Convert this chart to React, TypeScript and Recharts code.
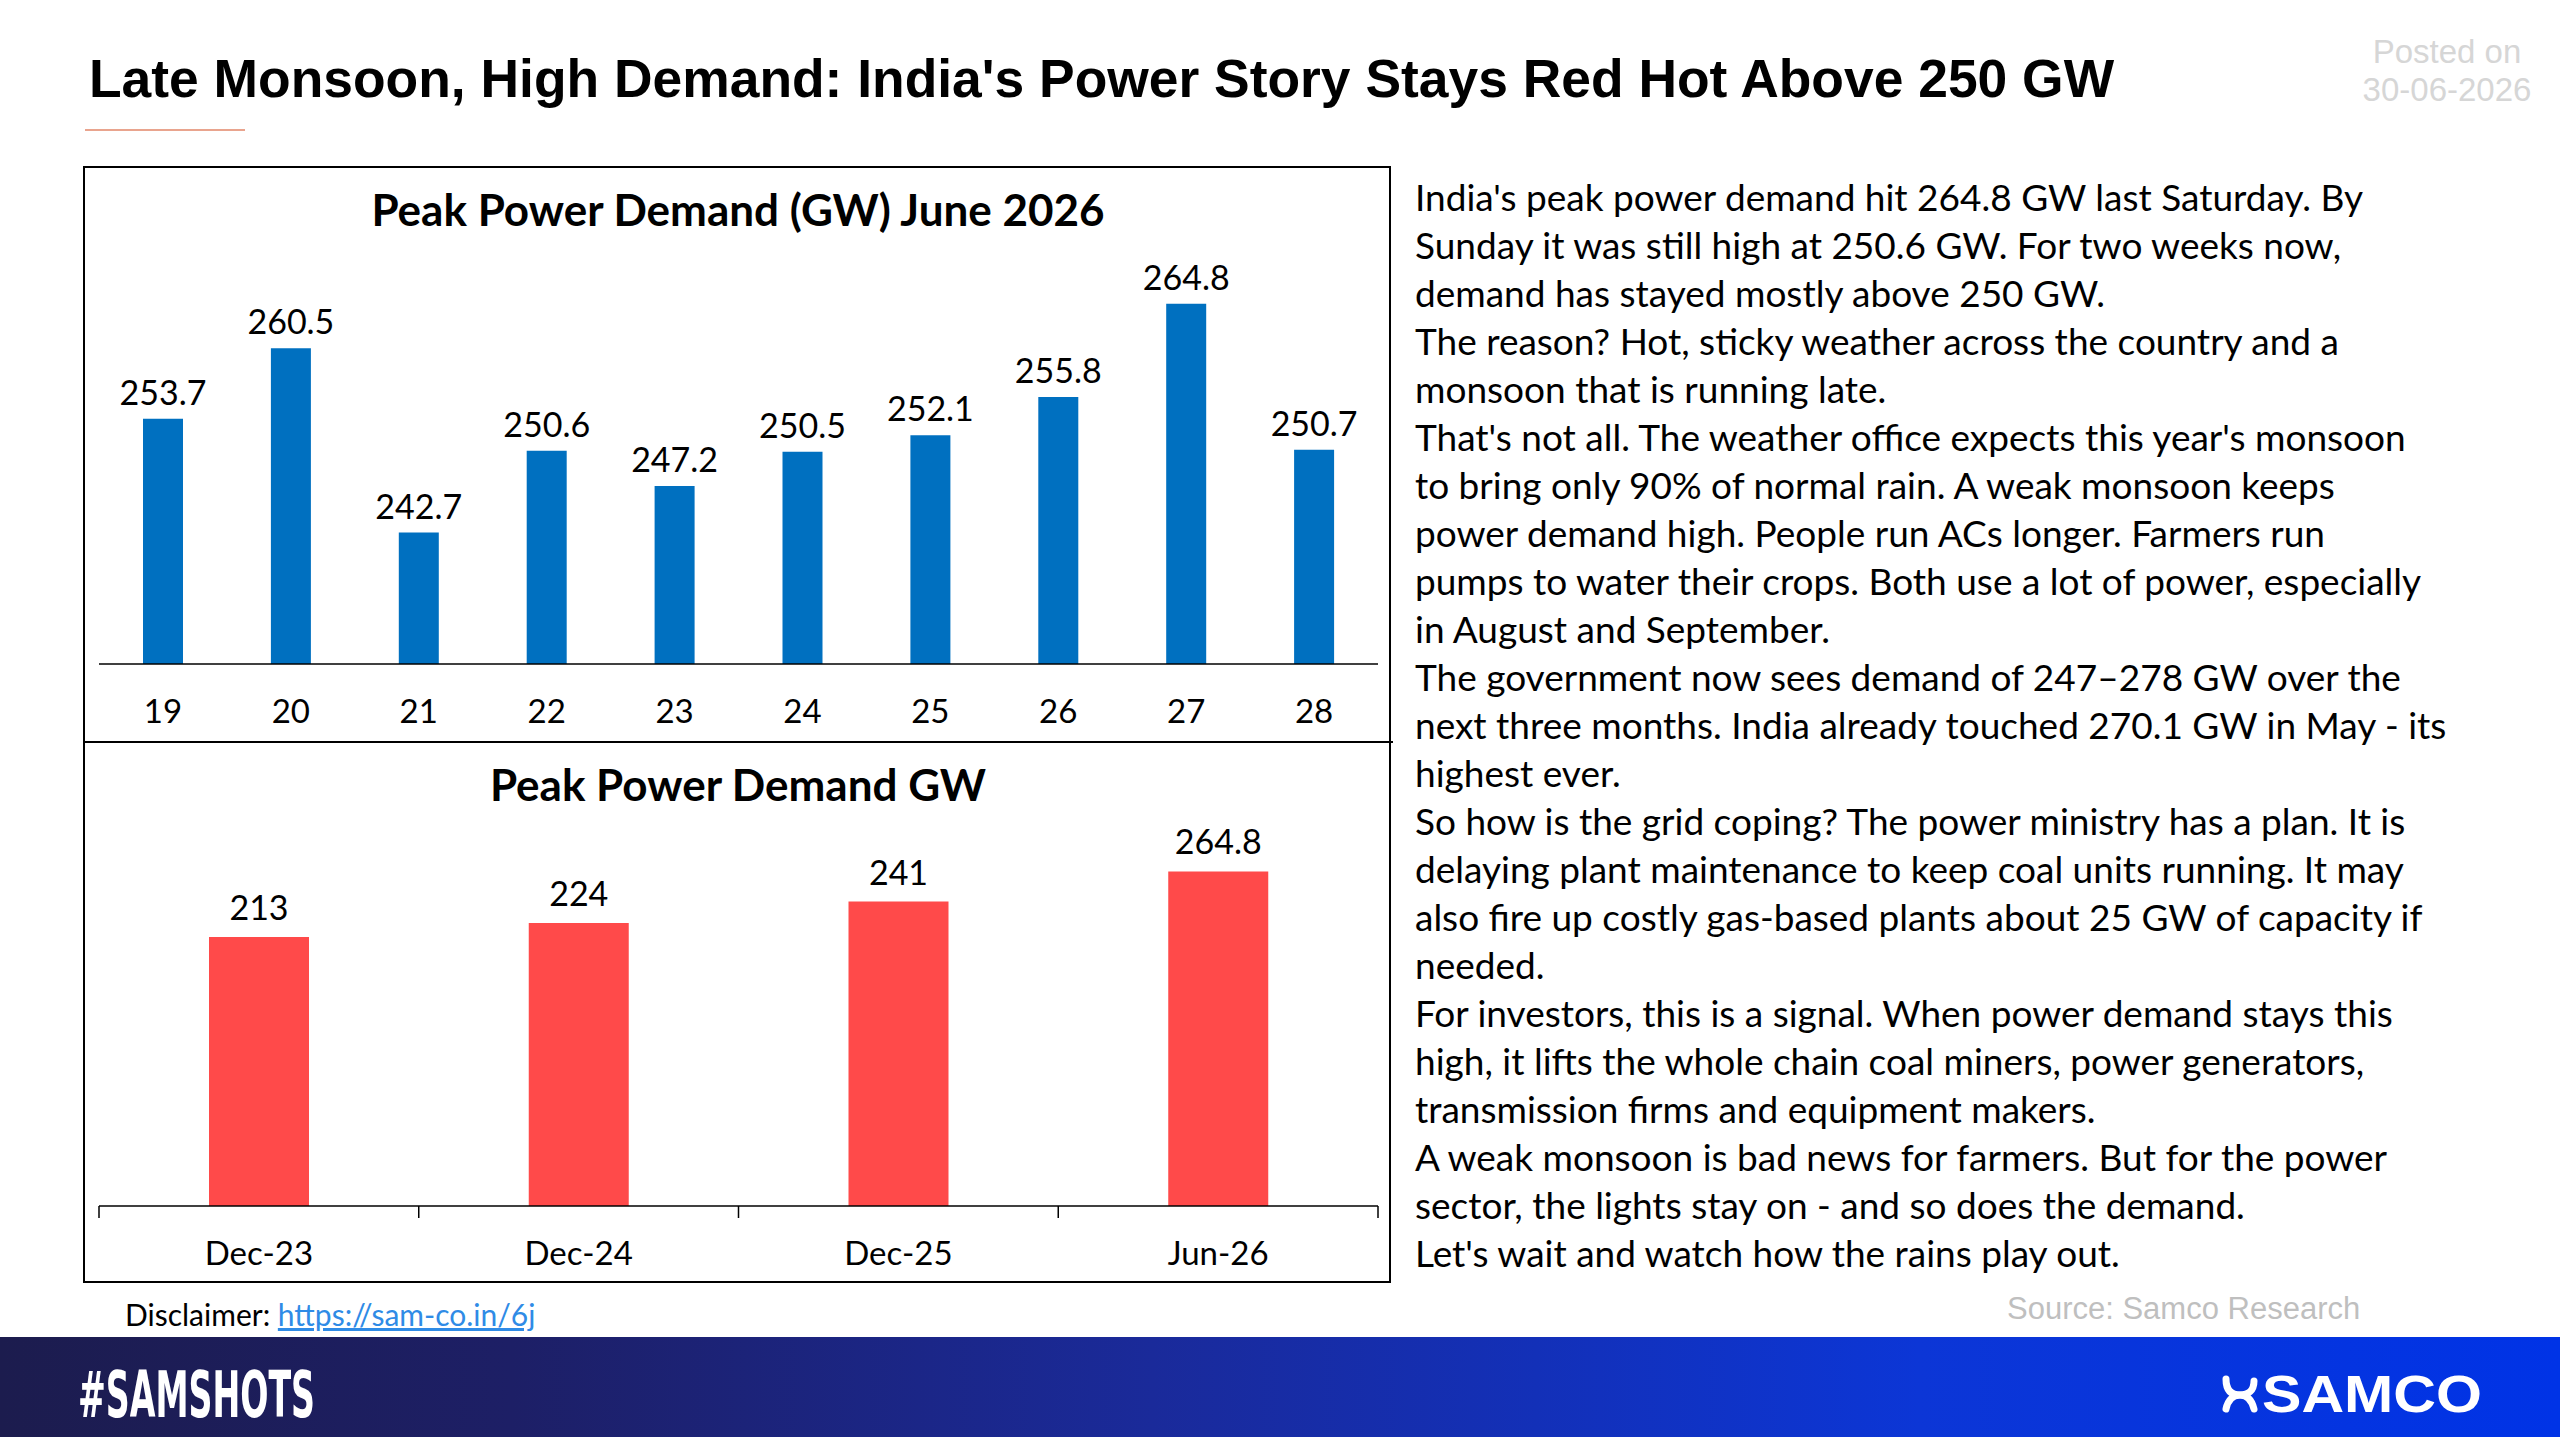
import React from 'react';
import { BarChart, Bar, XAxis, YAxis, LabelList } from 'recharts';

// June 2026 daily peak demand (GW)
const juneDays = ['19', '20', '21', '22', '23', '24', '25', '26', '27', '28'];
const juneDemand = [253.7, 260.5, 242.7, 250.6, 247.2, 250.5, 252.1, 255.8, 264.8, 250.7];

// longer-term peaks (GW)
const periods = ['Dec-23', 'Dec-24', 'Dec-25', 'Jun-26'];
const periodDemand = [213, 224, 241, 264.8];

const storyLines = [
  "India's peak power demand hit 264.8 GW last Saturday. By",
  'Sunday it was still high at 250.6 GW. For two weeks now,',
  'demand has stayed mostly above 250 GW.',
  'The reason? Hot, sticky weather across the country and a',
  'monsoon that is running late.',
  "That's not all. The weather office expects this year's monsoon",
  'to bring only 90% of normal rain. A weak monsoon keeps',
  'power demand high. People run ACs longer. Farmers run',
  'pumps to water their crops. Both use a lot of power, especially',
  'in August and September.',
  'The government now sees demand of 247–278 GW over the',
  'next three months. India already touched 270.1 GW in May - its',
  'highest ever.',
  'So how is the grid coping? The power ministry has a plan. It is',
  'delaying plant maintenance to keep coal units running. It may',
  'also fire up costly gas-based plants about 25 GW of capacity if',
  'needed.',
  'For investors, this is a signal. When power demand stays this',
  'high, it lifts the whole chain coal miners, power generators,',
  'transmission firms and equipment makers.',
  'A weak monsoon is bad news for farmers. But for the power',
  'sector, the lights stay on - and so does the demand.',
  "Let's wait and watch how the rains play out.",
];

const juneData = juneDays.map((day, i) => ({ day, value: juneDemand[i] }));
const periodData = periods.map((period, i) => ({ period, value: periodDemand[i] }));

const FONT = 'Lato, "Open Sans", sans-serif';
const ARIAL = '"Liberation Sans", Arial, sans-serif';

const CHART_W = 1308;
const bottomMargin = { top: 85, right: 14, left: 15, bottom: 8 };
const bottomBand = (CHART_W - bottomMargin.left - bottomMargin.right) / periods.length;

const PeriodTick = (props: any) => {
  const { x, y, payload, index } = props;
  const axisY = y - 36;
  const half = bottomBand / 2;
  return (
    <g>
      <line x1={x - half} x2={x - half} y1={axisY} y2={axisY + 12} stroke="#000" strokeWidth={1.5} />
      {index === periods.length - 1 && (
        <line x1={x + half} x2={x + half} y1={axisY} y2={axisY + 12} stroke="#000" strokeWidth={1.5} />
      )}
      <text x={x} y={y} dy="0.71em" textAnchor="middle" fontSize={33} fill="#000" fontFamily={FONT}>
        {payload.value}
      </text>
    </g>
  );
};

const chartTitle: React.CSSProperties = {
  position: 'absolute',
  left: 84,
  width: 1308,
  textAlign: 'center',
  fontFamily: FONT,
  fontWeight: 700,
  fontSize: 44,
  color: '#000',
  lineHeight: '52px',
};

const App: React.FC = () => {
  return (
    <div
      style={{
        position: 'absolute',
        left: 0,
        top: 0,
        width: 2560,
        height: 1440,
        background: '#fff',
        overflow: 'hidden',
      }}
    >
      {/* headline */}
      <div
        style={{
          position: 'absolute',
          left: 89,
          top: 47,
          fontFamily: ARIAL,
          fontWeight: 700,
          fontSize: 53.4,
          lineHeight: '64px',
          color: '#000',
          whiteSpace: 'nowrap',
        }}
      >
        Late Monsoon, High Demand: India's Power Story Stays Red Hot Above 250 GW
      </div>
      <div style={{ position: 'absolute', left: 85, top: 129, width: 160, height: 2, background: '#e9a48e' }} />
      <div
        style={{
          position: 'absolute',
          left: 2347,
          top: 33,
          width: 200,
          textAlign: 'center',
          fontFamily: ARIAL,
          fontSize: 33,
          lineHeight: '38px',
          color: '#d6d6d6',
        }}
      >
        Posted on
        <br />
        30-06-2026
      </div>

      {/* chart frame */}
      <div
        style={{
          position: 'absolute',
          left: 83,
          top: 166,
          width: 1308,
          height: 1117,
          border: '2px solid #000',
          boxSizing: 'border-box',
        }}
      />
      <div style={{ position: 'absolute', left: 83, top: 741, width: 1310, height: 2, background: '#000' }} />

      <div style={{ ...chartTitle, top: 183 }}>Peak Power Demand (GW) June 2026</div>
      <div style={{ position: 'absolute', left: 84, top: 167 }}>
        <BarChart
          width={CHART_W}
          height={575}
          data={juneData}
          margin={{ top: 83, right: 14, left: 15, bottom: 8 }}
        >
          <XAxis
            dataKey="day"
            height={70}
            axisLine={{ stroke: '#000', strokeWidth: 1.5 }}
            tickLine={false}
            tickSize={0}
            tickMargin={36}
            tick={{ fontSize: 33, fill: '#000', fontFamily: FONT }}
          />
          <YAxis hide domain={[230, 270]} allowDataOverflow />
          <Bar dataKey="value" fill="#0070C0" barSize={40} isAnimationActive={false}>
            <LabelList
              dataKey="value"
              position="top"
              offset={14}
              style={{ fontSize: 34, fill: '#000', fontFamily: FONT }}
            />
          </Bar>
        </BarChart>
      </div>

      <div style={{ ...chartTitle, top: 758 }}>Peak Power Demand GW</div>
      <div style={{ position: 'absolute', left: 84, top: 742 }}>
        <BarChart width={CHART_W} height={542} data={periodData} margin={bottomMargin}>
          <XAxis
            dataKey="period"
            height={70}
            axisLine={{ stroke: '#000', strokeWidth: 1.5 }}
            tickLine={false}
            tickSize={0}
            tickMargin={36}
            interval={0}
            tick={<PeriodTick />}
          />
          <YAxis hide domain={[0, 300]} allowDataOverflow />
          <Bar dataKey="value" fill="#FF4A4A" barSize={100} isAnimationActive={false}>
            <LabelList
              dataKey="value"
              position="top"
              offset={17}
              style={{ fontSize: 34, fill: '#000', fontFamily: FONT }}
            />
          </Bar>
        </BarChart>
      </div>

      {/* commentary */}
      <div
        style={{
          position: 'absolute',
          left: 1415,
          top: 173,
          fontFamily: FONT,
          fontSize: 37,
          lineHeight: '48px',
          color: '#000',
          whiteSpace: 'nowrap',
        }}
      >
        {storyLines.map((line, i) => (
          <div key={i}>{line}</div>
        ))}
      </div>

      {/* footer notes */}
      <div
        style={{
          position: 'absolute',
          left: 125,
          top: 1296,
          fontFamily: FONT,
          fontSize: 30,
          lineHeight: '36px',
          color: '#000',
          whiteSpace: 'nowrap',
        }}
      >
        Disclaimer:{' '}
        <span style={{ color: '#2f8be6', textDecoration: 'underline' }}>https://sam-co.in/6j</span>
      </div>
      <div
        style={{
          position: 'absolute',
          left: 2007,
          top: 1291,
          fontFamily: ARIAL,
          fontSize: 31,
          lineHeight: '36px',
          color: '#bfbfbf',
          whiteSpace: 'nowrap',
        }}
      >
        Source: Samco Research
      </div>

      {/* banner */}
      <div
        style={{
          position: 'absolute',
          left: 0,
          top: 1337,
          width: 2560,
          height: 100,
          background: 'linear-gradient(90deg, #1c1c4e 0%, #1d1f66 20%, #1a2a9a 45%, #0c36d6 75%, #0033e6 100%)',
        }}
      >
        <svg width={2560} height={100} style={{ display: 'block' }}>
          <text
            x={78}
            y={80}
            fill="#fff"
            fontFamily='"DejaVu Sans Condensed", "DejaVu Sans", sans-serif'
            fontWeight={700}
            fontSize={64}
            textLength={237}
            lengthAdjust="spacingAndGlyphs"
          >
            #SAMSHOTS
          </text>
          <g transform="translate(2222,38)" fill="none" stroke="#fff" strokeWidth={7} strokeLinecap="round">
            <path d="M4 4 C4 16 10 20 18 20 C26 20 32 16 32 6" />
            <path d="M4 34 C6 24 12 20 18 20 C26 20 30 26 32 34" />
          </g>
          <text
            x={2262}
            y={75}
            fill="#fff"
            fontFamily={ARIAL}
            fontWeight={700}
            fontSize={52}
            textLength={220}
            lengthAdjust="spacingAndGlyphs"
          >
            SAMCO
          </text>
        </svg>
      </div>
    </div>
  );
};

export default App;
